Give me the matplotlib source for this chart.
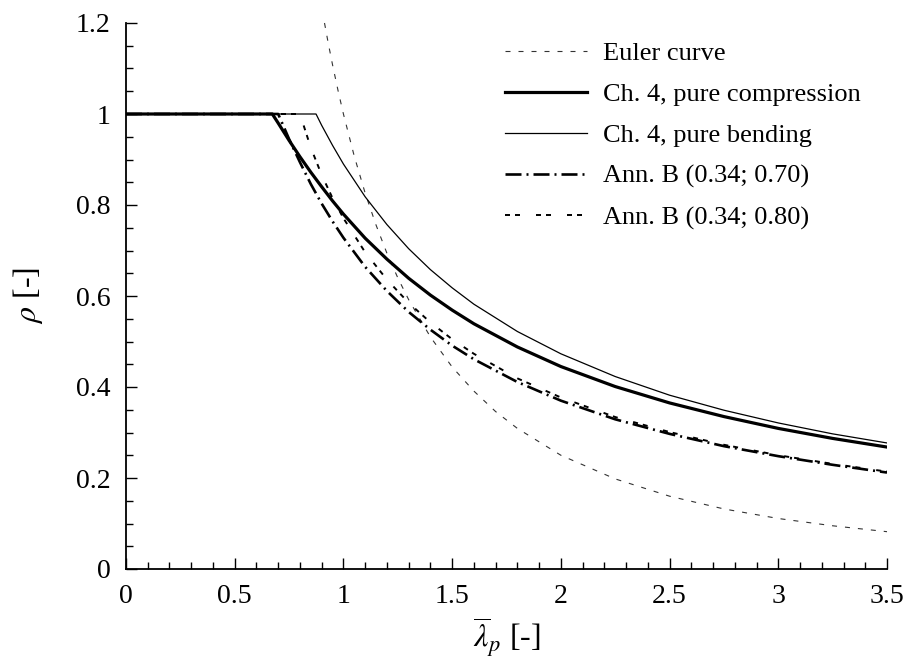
import matplotlib
matplotlib.use("Agg")
import matplotlib.pyplot as plt
from matplotlib.ticker import MultipleLocator

plt.rcParams['font.family'] = ['Liberation Serif', 'DejaVu Serif']
plt.rcParams['mathtext.fontset'] = 'stix'
plt.rcParams['lines.scale_dashes'] = False

# ---- data ----
lam_euler = [0.913, 0.93, 0.95, 0.975, 1.0, 1.05, 1.1, 1.15, 1.2, 1.25, 1.3, 1.4, 1.5, 1.6, 1.7, 1.8,
             2.0, 2.25, 2.5, 2.75, 3.0, 3.25, 3.5]
rho_euler = [1.200, 1.156, 1.108, 1.052, 1.000, 0.907, 0.826, 0.756, 0.694, 0.640, 0.592, 0.510,
             0.444, 0.391, 0.346, 0.309, 0.250, 0.198, 0.160, 0.132, 0.111, 0.095, 0.082]

lam_comp = [0.0, 0.673, 0.7, 0.75, 0.8, 0.85, 0.9, 0.95, 1.0, 1.1, 1.2, 1.3, 1.4, 1.5, 1.6, 1.8,
            2.0, 2.25, 2.5, 2.75, 3.0, 3.25, 3.5]
rho_comp = [1.0, 1.0, 0.980, 0.942, 0.906, 0.872, 0.840, 0.809, 0.780, 0.727, 0.681, 0.639, 0.602,
            0.569, 0.539, 0.488, 0.445, 0.401, 0.365, 0.335, 0.309, 0.287, 0.268]

lam_bend = [0.0, 0.874, 0.9, 0.95, 1.0, 1.1, 1.2, 1.3, 1.4, 1.5, 1.6, 1.8, 2.0, 2.25, 2.5, 2.75,
            3.0, 3.25, 3.5]
rho_bend = [1.0, 1.0, 0.975, 0.931, 0.890, 0.818, 0.757, 0.704, 0.658, 0.618, 0.582, 0.522, 0.473,
            0.423, 0.382, 0.349, 0.321, 0.297, 0.277]

lam_annb70 = [0.0, 0.70, 0.75, 0.8, 0.85, 0.9, 0.95, 1.0, 1.1, 1.2, 1.3, 1.4, 1.5, 1.6, 1.8, 2.0,
              2.25, 2.5, 2.75, 3.0, 3.25, 3.5]
rho_annb70 = [1.0, 1.0, 0.945, 0.894, 0.846, 0.803, 0.764, 0.728, 0.664, 0.611, 0.565, 0.526, 0.491,
              0.461, 0.411, 0.370, 0.329, 0.297, 0.270, 0.248, 0.229, 0.212]

lam_annb80 = [0.0, 0.80, 0.85, 0.9, 0.95, 1.0, 1.1, 1.2, 1.3, 1.4, 1.5, 1.6, 1.8, 2.0, 2.25, 2.5,
              2.75, 3.0, 3.25, 3.5]
rho_annb80 = [1.0, 1.0, 0.926, 0.866, 0.815, 0.771, 0.696, 0.636, 0.585, 0.542, 0.505, 0.473, 0.419,
              0.377, 0.334, 0.301, 0.273, 0.250, 0.231, 0.214]

labels = ["Euler curve", "Ch. 4, pure compression", "Ch. 4, pure bending",
          "Ann. B (0.34; 0.70)", "Ann. B (0.34; 0.80)"]

x_ticks = [0, 0.5, 1, 1.5, 2, 2.5, 3, 3.5]
x_ticklabels = ["0", "0.5", "1", "1.5", "2", "2.5", "3", "3.5"]
y_ticks = [0, 0.2, 0.4, 0.6, 0.8, 1.0, 1.2]
y_ticklabels = ["0", "0.2", "0.4", "0.6", "0.8", "1", "1.2"]

# ---- figure ----
fig = plt.figure(figsize=(9.09, 6.64), dpi=100)
ax = fig.add_axes([126/909, 1 - 569/664, (887-126)/909, (569-23)/664])

px = 0.72  # points per pixel
ax.plot(lam_euler, rho_euler, color='#333333', lw=0.8, dashes=(5*px, 8*px), label=labels[0], clip_on=False)
ax.plot(lam_comp, rho_comp, color='black', lw=2.3, label=labels[1], solid_joinstyle='round')
ax.plot(lam_bend, rho_bend, color='black', lw=0.9, label=labels[2])
ax.plot(lam_annb70, rho_annb70, color='black', lw=1.9,
        dashes=(16*px, 5*px, 2*px, 5*px), label=labels[3])
ax.plot(lam_annb80, rho_annb80, color='black', lw=1.4,
        dashes=(5*px, 5*px, 5*px, 16*px), label=labels[4])

ax.set_xlim(0, 3.5)
ax.set_ylim(0, 1.2)
ax.set_xticks(x_ticks)
ax.set_xticklabels(x_ticklabels)
ax.set_yticks(y_ticks)
ax.set_yticklabels(y_ticklabels)
ax.xaxis.set_minor_locator(MultipleLocator(0.1))
ax.yaxis.set_minor_locator(MultipleLocator(0.05))
ax.tick_params(which='both', direction='in', labelsize=20, width=1.0, top=False, right=False)
ax.tick_params(which='major', length=8, pad=11)
ax.tick_params(which='minor', length=5)
for s in ['top', 'right']:
    ax.spines[s].set_visible(False)
for s in ['left', 'bottom']:
    ax.spines[s].set_linewidth(1.3)

ax.set_xlabel(r'$\overline{\lambda}_p$ [-]', fontsize=23, labelpad=5)
ax.set_ylabel(r'$\rho$ [-]', fontsize=23, labelpad=22)

leg = ax.legend(loc='upper left', bbox_to_anchor=(0.484, 0.985), frameon=False, fontsize=19,
                handlelength=3.1, handletextpad=0.6, labelspacing=0.66, borderaxespad=0.0)

fig.savefig('out.png', dpi=100)
